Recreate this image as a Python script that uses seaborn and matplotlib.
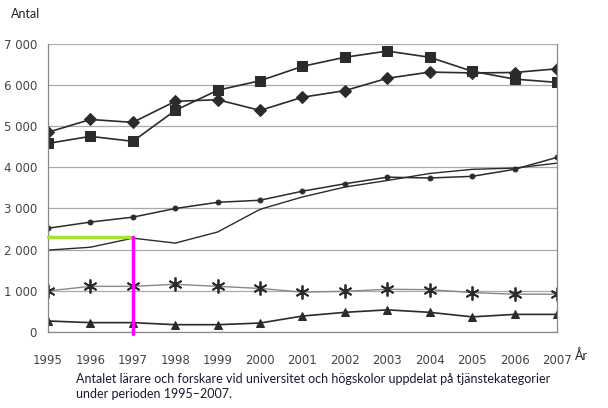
import seaborn as sns
import matplotlib.pyplot as plt
import pandas as pd

years = list(range(1995, 2008))
squares = [4580, 4750, 4630, 5380, 5870, 6100, 6450, 6670, 6820, 6670, 6330, 6140, 6060]
diamonds = [4850, 5160, 5090, 5600, 5640, 5380, 5700, 5860, 6160, 6310, 6290, 6300, 6390]
dots = [2520, 2670, 2790, 3000, 3150, 3200, 3420, 3600, 3760, 3740, 3780, 3950, 4240]
plain = [1990, 2060, 2280, 2160, 2430, 2980, 3280, 3520, 3680, 3850, 3950, 3980, 4100]
stars = [1000, 1110, 1110, 1160, 1110, 1060, 970, 990, 1040, 1030, 960, 920, 920]
triangles = [270, 230, 230, 180, 180, 220, 390, 480, 540, 480, 370, 430, 430]
ytick_vals = [0, 1000, 2000, 3000, 4000, 5000, 6000, 7000]
ytick_labels = ['0', '1 000', '2 000', '3 000', '4 000', '5 000', '6 000', '7 000']

sns.set_style('white')
plt.rcParams['font.family'] = ['DejaVu Sans']

fig = plt.figure(figsize=(6.08, 4.08), dpi=100)
ax = fig.add_axes([0.079, 0.186, 0.837, 0.707])

# gridlines first
for v in ytick_vals:
    ax.axhline(v, color='#aaaaaa', lw=0.9, zorder=0)

ink = '#2b2b2b'
sns.lineplot(x=years, y=squares, ax=ax, color=ink, lw=1.2, marker='s', markersize=7,
             markeredgecolor=ink, markerfacecolor=ink)
sns.lineplot(x=years, y=diamonds, ax=ax, color=ink, lw=1.2, marker='D', markersize=6,
             markeredgecolor=ink, markerfacecolor=ink)
sns.lineplot(x=years, y=dots, ax=ax, color=ink, lw=1.1, marker='o', markersize=3.5,
             markeredgecolor=ink, markerfacecolor=ink)
sns.lineplot(x=years, y=plain, ax=ax, color=ink, lw=1.0)
sns.lineplot(x=years, y=stars, ax=ax, color='#888888', lw=1.0, marker=(6, 2, 0), markersize=10,
             markeredgecolor=ink, markeredgewidth=1.3)
sns.lineplot(x=years, y=triangles, ax=ax, color=ink, lw=1.2, marker='^', markersize=6,
             markeredgecolor=ink, markerfacecolor=ink)

# highlight 1997
ax.plot([1995, 1997], [2300, 2300], color='#a6e22e', lw=2.5, zorder=5, clip_on=False)
ax.plot([1997, 1997], [2300, -40], color='#ff00ff', lw=2.5, zorder=5, clip_on=False)

ax.set_xlim(1995, 2007)
ax.set_ylim(0, 7000)
ax.set_xticks(years)
ax.set_xticklabels([str(y) for y in years], color='#444444', fontsize=8.5)
ax.set_yticks(ytick_vals)
ax.set_yticklabels(ytick_labels, color='#444444', fontsize=8.5)
ax.tick_params(length=0)
ax.tick_params(axis='x', pad=16)
ax.tick_params(axis='y', pad=8)
for side in ['left', 'right', 'bottom', 'top']:
    ax.spines[side].set_color('#888888')
    ax.spines[side].set_linewidth(0.9)
ax.spines['top'].set_visible(False)
ax.set_xlabel('')
ax.set_ylabel('')

fig.text(0.018, 0.955, 'Antal', fontsize=9, color='#222222', family='Lato')
fig.text(0.945, 0.118, 'År', fontsize=9, color='#222222', family='Lato')
fig.text(0.125, 0.061, 'Antalet lärare och forskare vid universitet och högskolor uppdelat på tjänstekategorier',
         fontsize=9, color='#1a1a30', family='Lato')
fig.text(0.125, 0.024, 'under perioden 1995–2007.', fontsize=9, color='#1a1a30', family='Lato')

fig.savefig('out.png', dpi=100)
